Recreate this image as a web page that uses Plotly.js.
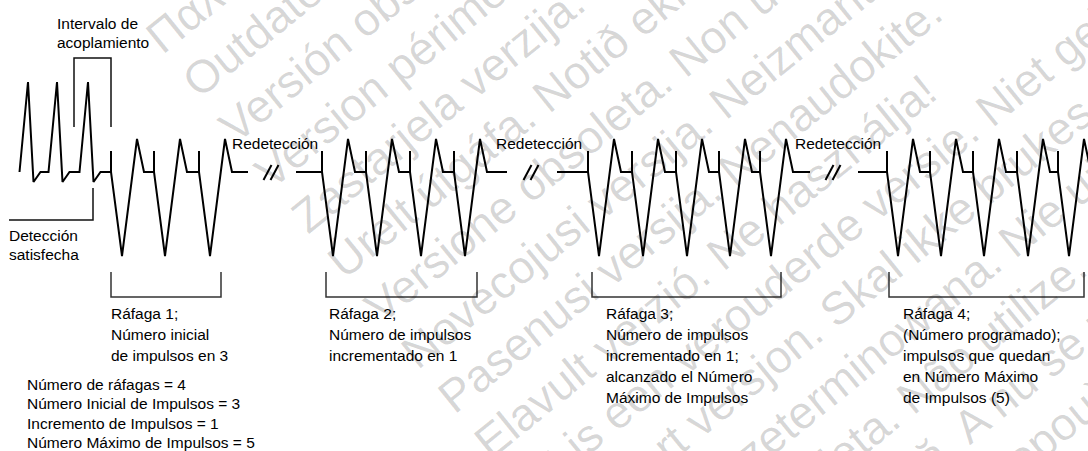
<!DOCTYPE html>
<html><head><meta charset="utf-8">
<script src="https://cdn.plot.ly/plotly-3.0.1.min.js"></script>
<style>html,body{margin:0;padding:0;background:#fff;}#chart{width:1088px;height:451px;}</style>
</head><body><div id="chart"></div>
<script>
// ---------- values (time positions of beats) ----------
const intrinsicPeaks = [28, 57, 88];
const burst1Pulses = [111, 154, 199];
const burst2Pulses = [322, 366, 410, 454];
const burst3Pulses = [588, 632, 676, 719, 760];
const burst4Pulses = [887, 930, 973, 1017, 1058];
const segmentStarts = [null, 296, 557, 858];
const segmentEnds = [248, 507, 810, null];

// ---------- texts ----------
const burstLabels = [
  ["Ráfaga 1;", "Número inicial", "de impulsos en 3"],
  ["Ráfaga 2;", "Número de impulsos", "incrementado en 1"],
  ["Ráfaga 3;", "Número de impulsos", "incrementado en 1;", "alcanzado el Número", "Máximo de Impulsos"],
  ["Ráfaga 4;", "(Número programado);", "impulsos que quedan", "en Número Máximo", "de Impulsos (5)"]
];
const redetectionLabel = "Redetección";
const paramLines = ["Número de ráfagas = 4", "Número Inicial de Impulsos = 3", "Incremento de Impulsos = 1", "Número Máximo de Impulsos = 5"];
const couplingLabel = ["Intervalo de", "acoplamiento"];
const detectionLabel = ["Detección", "satisfecha"];
const watermarkLines = [
  "Παλιά έκδοση. Μην την χρησιμοποιείτε.",
  "Outdated version. Do not use.",
  "Versión obsoleta. No utilizar.",
  "Version périmée. Ne pas utiliser.",
  "Zastarjela verzija. Nemojte upotrebljavati.",
  "Úrelt útgáfa. Notið ekki.",
  "Versione obsoleta. Non utilizzare.",
  "Novecojusi versija. Neizmantot.",
  "Pasenusi versija. Nenaudokite.",
  "Elavult verzió. Ne használja!",
  "Dit is een verouderde versie. Niet gebruiken.",
  "Utdatert versjon. Skal ikke brukes.",
  "Wersja przeterminowana. Nie używać.",
  "Versão obsoleta. Não utilize.",
  "Versiune expirată. A nu se utiliza.",
  "Zastaraná verzia. Nepoužívať."
];

// ---------- layout geometry (drawing units = px) ----------
const LV = {base:172, spike:151, pTrough:256, pPeak:139, sPeak:82, sTrough:182};
const burstLabelX = [111, 329, 606, 903];
const bracketLeft = [111, 326, 592, 889];
const bracketRight = [221, 477, 781, 1084];
const redetectionX = [232, 496, 795];
const FONT = "Liberation Sans, Arial, Helvetica, sans-serif";
const FS = 15.5;

const bursts = [burst1Pulses, burst2Pulses, burst3Pulses, burst4Pulses];
const traces = [];

function pacedBeat(xs, ys, p) {
  xs.push(p, p, p, p + 11, p + 26, p + 33);
  ys.push(LV.base, LV.spike, LV.base, LV.pTrough, LV.pPeak, LV.base);
}
function sensedBeat(xs, ys, q) {
  xs.push(q - 8.5, q, q + 5.5, q + 12.5);
  ys.push(LV.base, LV.sPeak, LV.sTrough, LV.base);
}
bursts.forEach((pulses, i) => {
  const xs = [], ys = [];
  if (i === 0) intrinsicPeaks.forEach(q => sensedBeat(xs, ys, q));
  else { xs.push(segmentStarts[i]); ys.push(LV.base); }
  pulses.forEach(p => pacedBeat(xs, ys, p));
  if (segmentEnds[i] !== null) { xs.push(segmentEnds[i]); ys.push(LV.base); }
  traces.push({x: xs, y: ys, mode: 'lines', line: {color: '#000', width: 2}, hoverinfo: 'skip'});
});

// break marks "//"
const bx = [], by = [];
for (let i = 0; i < 3; i++) {
  const c = (segmentEnds[i] + segmentStarts[i + 1]) / 2;
  for (let k = 0; k < 2; k++) {
    bx.push(c - 8.5 + 7 * k, c - 0.5 + 7 * k, null);
    by.push(180, 165, null);
  }
}
traces.push({x: bx, y: by, mode: 'lines', line: {color: '#000', width: 2}, hoverinfo: 'skip'});

// brackets
const kx = [], ky = [];
for (let i = 0; i < 4; i++) {
  kx.push(bracketLeft[i], bracketLeft[i], bracketRight[i], bracketRight[i], null);
  ky.push(272, 297, 297, 272, null);
}
traces.push({x: kx, y: ky, mode: 'lines', line: {color: '#333', width: 1.5}, hoverinfo: 'skip'});
traces.push({x: [74, 74, 111, 111, null, 93, 93, 9], y: [127, 58, 58, 127, null, 188, 220, 220],
  mode: 'lines', line: {color: '#111', width: 1.5}, hoverinfo: 'skip'});

// annotations
const ann = [];
function label(x, y, t) {
  ann.push({xref: 'x', yref: 'y', x: x - 2, y: y, text: t, showarrow: false, xanchor: 'left', yanchor: 'middle',
    font: {family: FONT, size: FS, color: '#000'}});
}
burstLabels.forEach((lines, i) => lines.forEach((t, j) => label(burstLabelX[i], 313 + j * 21.2, t)));
redetectionX.forEach(x => label(x, 143, redetectionLabel));
paramLines.forEach((t, j) => label(27, 384 + j * 19.6, t));
couplingLabel.forEach((t, j) => label(57, 23 + j * 19, t));
detectionLabel.forEach((t, j) => label(9, 235 + j * 19.5, t));

// watermark
const WFS = 46, TH = 39 * Math.PI / 180;
const d = [Math.cos(TH), -Math.sin(TH)], u = [-Math.sin(TH), -Math.cos(TH)], n = [Math.sin(TH), Math.cos(TH)];
const cv = document.createElement('canvas').getContext('2d');
cv.font = WFS + 'px "Liberation Sans"';
const ref = [477, 443], step = [36.5, 45], refIdx = 9, perpShift = 22;
watermarkLines.forEach((t, k) => {
  const sx = ref[0] + (k - refIdx) * step[0] + n[0] * perpShift;
  const sy = ref[1] + (k - refIdx) * step[1] + n[1] * perpShift;
  const w = cv.measureText(t).width;
  const cx = sx + d[0] * w / 2 + u[0] * 0.35 * WFS;
  const cy = sy + d[1] * w / 2 + u[1] * 0.35 * WFS;
  ann.push({xref: 'paper', yref: 'paper', x: cx / 1088, y: 1 - cy / 451, text: t, showarrow: false,
    xanchor: 'center', yanchor: 'middle', textangle: -39,
    font: {family: FONT, size: WFS, color: 'rgba(0,0,0,0.16)'}});
});

Plotly.newPlot('chart', traces, {
  width: 1088, height: 451, margin: {l: 0, r: 0, t: 0, b: 0, pad: 0},
  paper_bgcolor: '#fff', plot_bgcolor: '#fff', showlegend: false,
  xaxis: {range: [0, 1088], visible: false, fixedrange: true},
  yaxis: {range: [451, 0], visible: false, fixedrange: true},
  annotations: ann
}, {staticPlot: true, displayModeBar: false});
</script></body></html>
